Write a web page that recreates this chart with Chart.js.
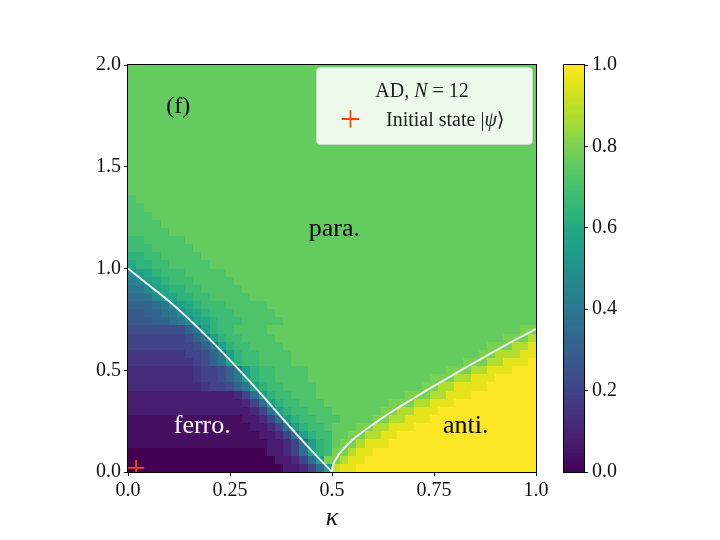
<!DOCTYPE html>
<html>
<head>
<meta charset="utf-8">
<script src="https://cdn.jsdelivr.net/npm/chart.js@4.4.1/dist/chart.umd.min.js"></script>
<style>
  html, body { margin: 0; padding: 0; background: #fff; }
  #wrap { position: relative; width: 720px; height: 540px; }
  #wrap canvas { position: absolute; left: 0; top: 0; }
</style>
</head>
<body>
<div id="wrap">
  <canvas id="main" width="720" height="540"></canvas>
  <canvas id="cbar" width="720" height="540"></canvas>
</div>
<script>
// ---- data ----
const xTicks = [0, 0.25, 0.5, 0.75, 1.0];
const xTickLabels = ['0.0', '0.25', '0.5', '0.75', '1.0'];
const yTicks = [0, 0.5, 1.0, 1.5, 2.0];
const yTickLabels = ['0.0', '0.5', '1.0', '1.5', '2.0'];
const cbTicks = [0, 0.2, 0.4, 0.6, 0.8, 1.0];
const cbTickLabels = ['0.0', '0.2', '0.4', '0.6', '0.8', '1.0'];

// grid cells: kappa 0..1 in steps of 0.02, h 0..2 in steps of 0.04
const kStep = 0.02;
const hStep = 0.04;
// one string per row, top row (h = 1.96..2.00) first, run-length coded:
// letter a..z = value 0..1 in steps of 0.04, optional number = repeat count
const heatRows = [
  't50', 't50', 't50', 't50', 't50',
  't50', 't50', 't50', 't50', 't50',
  't50', 't50', 't50', 't50', 't50',
  't50',
  'st49',
  's2t48',
  's3t47',
  's4t46',
  's5t45',
  'r2s5t43',
  'r3s5t42',
  'q2r2s5t41',
  'pq2r2s5t40',
  'mopqr3s5t38',
  'lmopqr3s5t37',
  'k2mopq2r2s5t36',
  'j2kmopq2r2s5t35',
  'i3jkmopqr3s5t33',
  'h2i2jkmopqr3s5t32',
  'h3i2jkmopqr3s5t31',
  'g7ikoqr2s4t31u2',
  'f7gikoqr2s4t28u3w',
  'f8gikoqr2s4t25u3w2y',
  'e7f2gikoqr2s4t23u2w3y2',
  'e8fgikoqr2s4t21u3w2y3z',
  'd8ef2gikoqr2s4t17u3w2y3z3',
  'd8ef2gikoqr2s4t15u3w2y3z5',
  'd9ef2gikoqr2s4t13u2w2y4z6',
  'c13dfjoqr2s3t11u3w2y3z8',
  'c14dfjoqr2s3t8u3w2y3z10',
  'c15dfjoqr2s3t6u2w2y3z12',
  'b14c2dfjoqr2s3t4u2w2y3z13',
  'b15c2dfjoqr2st3u2w2y3z15',
  'b16c2dfjoqr2t2u2w2y2z17',
  'b17c2dfjoqrtu2wy3z18',
  'a17c2dfjoqru2wy2z20',
  'a18c2dfjouuwy2z21',
  'a19c2dfjoxy2z22'
];

// phase boundaries (white lines)
const ferroLineK = [0, 0.05, 0.10, 0.15, 0.20, 0.25, 0.30, 0.35, 0.40, 0.45, 0.50];
const ferroLineH = [1.0, 0.92, 0.84, 0.75, 0.653, 0.55, 0.442, 0.329, 0.215, 0.105, 0.0];
const antiLineK = [0.5, 0.501, 0.505, 0.51, 0.52, 0.53, 0.55, 0.6, 0.65, 0.7, 0.75, 0.8, 0.85, 0.9, 0.95, 1.0];
const antiLineH = [0.0, 0.02, 0.045, 0.065, 0.095, 0.117, 0.157, 0.233, 0.300, 0.362, 0.423, 0.481, 0.539, 0.595, 0.650, 0.703];

const initialState = { x: 0.02, y: 0.02 };

const regionLabels = [
  { text: '(f)', k: 0.123, h: 1.765, color: '#000', size: 24 },
  { text: 'para.', k: 0.506, h: 1.158, color: '#000', size: 26 },
  { text: 'ferro.', k: 0.182, h: 0.19, color: '#fff', size: 26 },
  { text: 'anti.', k: 0.828, h: 0.19, color: '#000', size: 26 },
];

// ---- style ----
const serif = '"Liberation Serif", "DejaVu Serif", serif';
const markerColor = '#ff4500';
const boundaryColor = 'rgba(244,244,244,0.95)';

const viridisStops = [
  '#440154', '#471365', '#482475', '#46337f', '#414487', '#3b528b', '#355f8d',
  '#2f6c8e', '#2a788e', '#25848e', '#21918c', '#1f9e89', '#22a884', '#35b779',
  '#44bf70', '#5ec962', '#7ad151', '#9fda3a', '#bddf26', '#dfe318', '#fde725'
];

function hexToRgb(hex) {
  const n = parseInt(hex.slice(1), 16);
  return [(n >> 16) & 255, (n >> 8) & 255, n & 255];
}
const viridisRgb = viridisStops.map(hexToRgb);

function viridis(v) {
  const t = Math.min(1, Math.max(0, v)) * (viridisRgb.length - 1);
  const i = Math.min(viridisRgb.length - 2, Math.floor(t));
  const f = t - i;
  const a = viridisRgb[i], b = viridisRgb[i + 1];
  const c = a.map((av, n) => Math.round(av + (b[n] - av) * f));
  return `rgb(${c[0]},${c[1]},${c[2]})`;
}

function decodeRow(row) {
  const out = [];
  row.replace(/([a-z])(\d*)/g, (m, ch, num) => {
    const count = num ? parseInt(num, 10) : 1;
    const level = (ch.charCodeAt(0) - 97) / 25;
    for (let n = 0; n < count; n++) out.push(level);
    return m;
  });
  return out;
}

const toPoints = (xs, ys) => xs.map((x, i) => ({ x, y: ys[i] }));

// heatmap cells, drawn through the chart scales
const heatmapPlugin = {
  id: 'heatmap',
  beforeDatasetsDraw(chart) {
    const { ctx, scales: { x, y } } = chart;
    const nRows = heatRows.length;
    ctx.save();
    heatRows.forEach((row, r) => {
      const j = nRows - 1 - r;
      const yTop = Math.round(y.getPixelForValue((j + 1) * hStep));
      const yBot = Math.round(y.getPixelForValue(j * hStep));
      decodeRow(row).forEach((level, i) => {
        const xL = Math.round(x.getPixelForValue(i * kStep));
        const xR = Math.round(x.getPixelForValue((i + 1) * kStep));
        ctx.fillStyle = viridis(level);
        ctx.fillRect(xL, yTop, xR - xL, yBot - yTop);
      });
    });
    ctx.restore();
  }
};

function drawCross(ctx, cx, cy, r, color, lw) {
  ctx.save();
  ctx.strokeStyle = color;
  ctx.lineWidth = lw;
  ctx.beginPath();
  ctx.moveTo(cx - r, cy); ctx.lineTo(cx + r, cy);
  ctx.moveTo(cx, cy - r); ctx.lineTo(cx, cy + r);
  ctx.stroke();
  ctx.restore();
}

// draws runs of [text, italic] left to right from x
function drawRuns(ctx, runs, x, y, size) {
  let cx = x;
  runs.forEach(([txt, italic]) => {
    ctx.font = `${italic ? 'italic ' : ''}${size}px ${serif}`;
    ctx.fillText(txt, cx, y);
    cx += ctx.measureText(txt).width;
  });
}
function runsWidth(ctx, runs, size) {
  return runs.reduce((w, [txt, italic]) => {
    ctx.font = `${italic ? 'italic ' : ''}${size}px ${serif}`;
    return w + ctx.measureText(txt).width;
  }, 0);
}

const overlayPlugin = {
  id: 'overlay',
  afterDatasetsDraw(chart) {
    const { ctx, chartArea: a, scales: { x, y } } = chart;
    ctx.save();
    // frame
    ctx.strokeStyle = '#000';
    ctx.lineWidth = 1;
    ctx.strokeRect(a.left - 0.5, a.top - 0.5, a.right - a.left + 1, a.bottom - a.top + 1);

    // region labels
    ctx.textAlign = 'center';
    ctx.textBaseline = 'alphabetic';
    regionLabels.forEach(l => {
      ctx.font = `${l.size}px ${serif}`;
      ctx.fillStyle = l.color;
      ctx.fillText(l.text, x.getPixelForValue(l.k), y.getPixelForValue(l.h));
    });

    // legend box
    const bx = 316, by = 67, bw = 216, bh = 77;
    ctx.beginPath();
    ctx.roundRect(bx + 0.5, by + 0.5, bw, bh, 4);
    ctx.fillStyle = 'rgba(255,255,255,0.88)';
    ctx.fill();
    ctx.strokeStyle = 'rgba(215,215,215,0.9)';
    ctx.stroke();

    ctx.textAlign = 'left';
    ctx.fillStyle = '#222';
    const titleRuns = [['AD, ', false], ['N', true], [' = 12', false]];
    const tw = runsWidth(ctx, titleRuns, 20);
    drawRuns(ctx, titleRuns, 422 - tw / 2, 97, 20);

    drawCross(ctx, 350.5, 119, 8.8, markerColor, 1.8);
    drawRuns(ctx, [['Initial state |', false], ['ψ', true], ['⟩', false]], 386, 126, 20);
    ctx.restore();
  }
};

const tickFont = { family: serif, size: 20 };
const tickGrid = { display: true, drawOnChartArea: false, drawTicks: true, tickLength: 4, color: '#000', lineWidth: 1 };

new Chart(document.getElementById('main'), {
  type: 'scatter',
  data: {
    datasets: [
      {
        type: 'line',
        data: toPoints(ferroLineK, ferroLineH),
        borderColor: boundaryColor,
        borderWidth: 2,
        pointRadius: 0,
        cubicInterpolationMode: 'monotone',
        fill: false,
      },
      {
        type: 'line',
        data: toPoints(antiLineK, antiLineH),
        borderColor: boundaryColor,
        borderWidth: 2,
        pointRadius: 0,
        cubicInterpolationMode: 'monotone',
        fill: false,
      },
      {
        data: [initialState],
        pointStyle: 'cross',
        pointRadius: 8,
        borderColor: markerColor,
        borderWidth: 1.8,
        clip: 0,
      },
    ],
  },
  options: {
    responsive: false,
    animation: false,
    events: [],
    layout: { padding: { left: 0, top: 65, right: 184, bottom: 0 } },
    plugins: { legend: { display: false }, tooltip: { enabled: false } },
    scales: {
      x: {
        type: 'linear', min: 0, max: 1,
        afterBuildTicks: (s) => { s.ticks = xTicks.map(v => ({ value: v })); },
        afterFit: (s) => { s.height = 68; },
        ticks: { font: tickFont, color: '#111', padding: 3, maxRotation: 0, autoSkip: false,
                 callback: (v, i) => xTickLabels[i] },
        grid: tickGrid,
        border: { display: false },
        title: { display: true, text: 'κ', color: '#111',
                 font: { family: serif, size: 26, style: 'italic' },
                 padding: { top: 0, bottom: 6 } },
      },
      y: {
        type: 'linear', min: 0, max: 2,
        afterBuildTicks: (s) => { s.ticks = yTicks.map(v => ({ value: v })); },
        afterFit: (s) => { s.width = 128; },
        ticks: { font: tickFont, color: '#111', padding: 3, autoSkip: false,
                 callback: (v, i) => yTickLabels[i] },
        grid: tickGrid,
        border: { display: false },
      },
    },
  },
  plugins: [heatmapPlugin, overlayPlugin],
});

// colour bar
const colorbarPlugin = {
  id: 'colorbar',
  beforeDatasetsDraw(chart) {
    const { ctx, chartArea: a, scales: { y } } = chart;
    ctx.save();
    const steps = 256;
    for (let n = 0; n < steps; n++) {
      const v0 = n / steps, v1 = (n + 1) / steps;
      const yTop = Math.floor(y.getPixelForValue(v1));
      const yBot = Math.ceil(y.getPixelForValue(v0));
      ctx.fillStyle = viridis((v0 + v1) / 2);
      ctx.fillRect(a.left, yTop, a.right - a.left, yBot - yTop);
    }
    ctx.strokeStyle = '#000';
    ctx.lineWidth = 1;
    ctx.strokeRect(a.left - 0.5, a.top - 0.5, a.right - a.left + 1, a.bottom - a.top + 1);
    ctx.restore();
  }
};

new Chart(document.getElementById('cbar'), {
  type: 'scatter',
  data: { datasets: [] },
  options: {
    responsive: false,
    animation: false,
    events: [],
    layout: { padding: { left: 564, top: 65, right: 0, bottom: 68 } },
    plugins: { legend: { display: false }, tooltip: { enabled: false } },
    scales: {
      x: { type: 'linear', display: false, min: 0, max: 1 },
      y: {
        type: 'linear', position: 'right', min: 0, max: 1,
        afterBuildTicks: (s) => { s.ticks = cbTicks.map(v => ({ value: v })); },
        afterFit: (s) => { s.width = 136; },
        ticks: { font: tickFont, color: '#111', padding: 4, autoSkip: false,
                 callback: (v, i) => cbTickLabels[i] },
        grid: tickGrid,
        border: { display: false },
      },
    },
  },
  plugins: [colorbarPlugin],
});
</script>
</body>
</html>
